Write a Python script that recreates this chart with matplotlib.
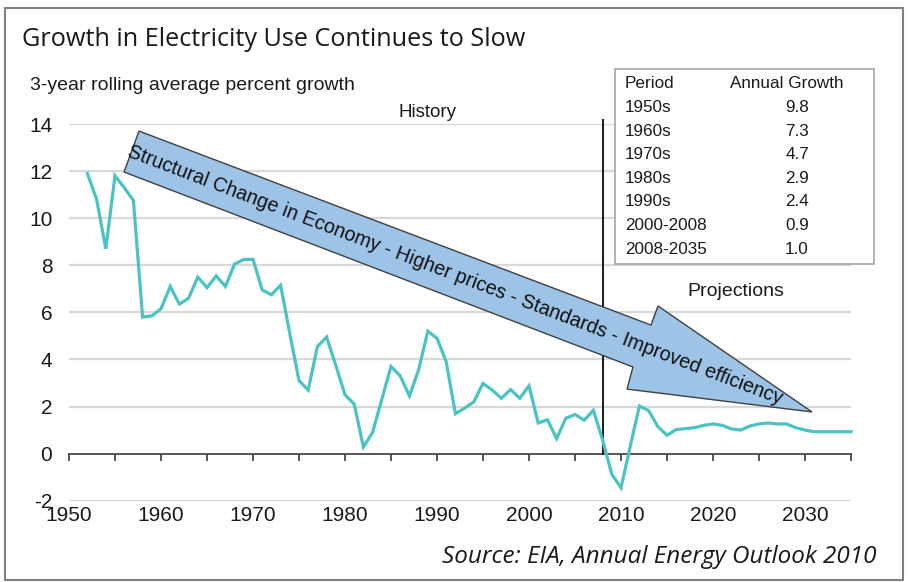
import matplotlib
matplotlib.use("Agg")
import matplotlib.pyplot as plt
from matplotlib.patches import Polygon, Rectangle

plt.rcParams["axes.unicode_minus"] = False

# ---------------- data ----------------
years = list(range(1952, 2036))
growth = [11.9, 10.8, 8.7, 11.8, 11.3, 10.75, 5.8, 5.85, 6.15, 7.1,
          6.35, 6.6, 7.5, 7.05, 7.55, 7.1, 8.05, 8.25, 8.25, 6.95,
          6.75, 7.15, 5.1, 3.1, 2.7, 4.55, 4.95, 3.75, 2.5, 2.1,
          0.28, 0.9, 2.3, 3.7, 3.3, 2.45, 3.55, 5.2, 4.9, 3.9,
          1.7, 1.93, 2.2, 2.98, 2.7, 2.35, 2.72, 2.35, 2.88, 1.3,
          1.44, 0.64, 1.5, 1.66, 1.42, 1.84, 0.58, -0.88, -1.45, 0.3,
          2.02, 1.83, 1.15, 0.78, 1.02, 1.06, 1.1, 1.2, 1.26, 1.2,
          1.05, 1.0, 1.17, 1.26, 1.3, 1.26, 1.26, 1.1, 1.0, 0.93,
          0.93, 0.93, 0.93, 0.93]
x_ticks = list(range(1950, 2036, 5))
x_labels = ["1950", "", "1960", "", "1970", "", "1980", "", "1990", "",
            "2000", "", "2010", "", "2020", "", "2030", ""]
y_ticks = [-2, 0, 2, 4, 6, 8, 10, 12, 14]
periods = ["1950s", "1960s", "1970s", "1980s", "1990s", "2000-2008", "2008-2035"]
annual_growth = ["9.8", "7.3", "4.7", "2.9", "2.4", "0.9", "1.0"]
split_year = 2008
arrow_text = "Structural Change in Economy - Higher prices - Standards - Improved efficiency"

W, H = 909, 582
fig = plt.figure(figsize=(W / 100, H / 100), dpi=100)

def fx(px):
    return px / W

def fy(py):
    return 1 - py / H

ax = fig.add_axes([fx(69), fy(500.7), fx(851) - fx(69), fy(124) - fy(500.7)])
ax.set_xlim(1950, 2035)
ax.set_ylim(-2, 14)

# gridlines
for v in y_ticks:
    if v != 0:
        ax.axhline(v, color="#d9d9d9", lw=1.6, zorder=0)

# spines
for s in ["left", "right", "top"]:
    ax.spines[s].set_visible(False)
ax.spines["bottom"].set_position(("data", 0))
ax.spines["bottom"].set_color("#555555")
ax.spines["bottom"].set_linewidth(1.4)

ax.set_xticks(x_ticks)
ax.set_xticklabels(x_labels)
ax.tick_params(axis="x", direction="out", length=5, width=1.4, color="#555555",
               pad=33, labelsize=15, labelcolor="#1a1a1a")
ax.set_yticks(y_ticks)
ax.tick_params(axis="y", length=0, pad=12, labelsize=15, labelcolor="#1a1a1a")
for lab in ax.get_xticklabels() + ax.get_yticklabels():
    lab.set_family("Liberation Sans")

# split line
ax.plot([split_year, split_year], [0, 14.15], color="#222222", lw=1.5,
        clip_on=False, zorder=3)

# data line
ax.plot(years, growth, color="#4cc3c3", lw=2.3, zorder=4, clip_on=False,
        solid_joinstyle="miter")

# big arrow (annotation)
arrow_pts = [(1957.61, 13.70), (2013.26, 5.46), (2014.02, 6.27), (2030.76, 1.77),
             (2010.65, 2.74), (2011.30, 3.68), (1955.98, 11.96)]
ax.add_patch(Polygon(arrow_pts, closed=True, facecolor="#9dc3e6",
                     edgecolor="#404040", lw=1.0, zorder=5, clip_on=False))
ax.text(1992.0, 7.58, arrow_text, rotation=-20.8, rotation_mode="anchor",
        ha="center", va="center", fontsize=14.2, family="Liberation Sans",
        color="#111111", zorder=6)

ax.text(1989.0, 14.5, "History", ha="center", va="center", fontsize=13.5,
        family="Liberation Sans", color="#1a1a1a")
ax.text(2022.5, 6.9, "Projections", ha="center", va="center", fontsize=14,
        family="Liberation Sans", color="#1a1a1a")

# figure texts
fig.text(fx(22), fy(40), "Growth in Electricity Use Continues to Slow",
         ha="left", va="center", fontsize=18.2, family="Open Sans", color="#1a1a1a")
fig.text(fx(30), fy(86), "3-year rolling average percent growth", ha="left",
         va="center", fontsize=14, family="Liberation Sans", color="#1a1a1a")
fig.text(fx(877), fy(557), "Source: EIA, Annual Energy Outlook 2010", ha="right",
         va="center", fontsize=17.5, family="Open Sans", style="italic", color="#1a1a1a")

# table
fig.add_artist(Rectangle((fx(615), fy(264)), fx(874) - fx(615), fy(69) - fy(264),
                         transform=fig.transFigure, facecolor="white",
                         edgecolor="#a6a6a6", lw=1.2, zorder=7))
row_y0, row_dy = 84, 23.6
fig.text(fx(625), fy(row_y0), "Period", ha="left", va="center", fontsize=12.3,
         family="Liberation Sans", color="#1a1a1a", zorder=8)
fig.text(fx(787), fy(row_y0), "Annual Growth", ha="center", va="center", fontsize=12.3,
         family="Liberation Sans", color="#1a1a1a", zorder=8)
for i, (p, g) in enumerate(zip(periods, annual_growth)):
    yy = row_y0 + (i + 1) * row_dy
    fig.text(fx(625), fy(yy), p, ha="left", va="center", fontsize=12.3,
             family="Liberation Sans", color="#1a1a1a", zorder=8)
    fig.text(fx(797), fy(yy), g, ha="center", va="center", fontsize=12.3,
             family="Liberation Sans", color="#1a1a1a", zorder=8)

# outer frame
fig.add_artist(Rectangle((fx(5), fy(580)), fx(903) - fx(5), fy(8) - fy(580),
                         transform=fig.transFigure, facecolor="none",
                         edgecolor="#808080", lw=1.5, zorder=1))

fig.savefig("out.png", dpi=100, facecolor="white")
